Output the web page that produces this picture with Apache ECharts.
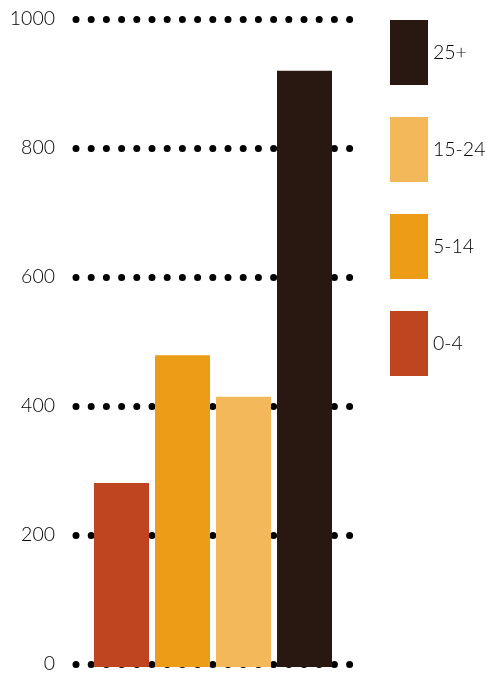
<!DOCTYPE html>
<html>
<head>
<meta charset="utf-8">
<script src="https://cdn.jsdelivr.net/npm/echarts@6/dist/echarts.min.js"></script>
<style>html,body{margin:0;padding:0;background:#fff}#c{width:486px;height:674px}</style>
</head>
<body>
<div id="c"></div>
<script>
const categories = ['0-4', '5-14', '15-24', '25+'];
const values = [284, 481, 417, 920];
const colors = ['#bf4521', '#ec9c16', '#f3b85a', '#291812'];
const legendOrder = ['25+', '15-24', '5-14', '0-4'];
const yMin = 0, yMax = 1000, yStep = 200;

const chart = echarts.init(document.getElementById('c'), null, {renderer: 'canvas'});
const font = {fontFamily: 'Lato', fontWeight: 300, fontSize: 19.5, color: '#000'};

const series = categories.map((c, i) => ({
  name: c,
  type: 'bar',
  stack: 'all',
  xAxisIndex: 1,
  yAxisIndex: 1,
  barWidth: 55,
  itemStyle: {color: colors[i]},
  data: categories.map((_, j) => (j === i ? values[i] : '-'))
}));

chart.setOption({
  animation: false,
  color: colors,
  grid: [
    {left: 76, right: 136, top: 19, bottom: 7},
    {left: 91, width: 244, top: 19, bottom: 7}
  ],
  legend: {
    data: legendOrder,
    orient: 'vertical',
    left: 390,
    top: 20,
    padding: 0,
    itemWidth: 38,
    itemHeight: 65,
    itemGap: 32,
    icon: 'rect',
    textStyle: font
  },
  xAxis: [
    {gridIndex: 0, type: 'category', data: categories, show: false},
    {gridIndex: 1, type: 'category', data: categories, show: false}
  ],
  yAxis: [
    {
      gridIndex: 0, type: 'value', min: yMin, max: yMax, interval: yStep,
      axisLine: {show: false}, axisTick: {show: false},
      axisLabel: Object.assign({margin: 21, formatter: v => String(v)}, font),
      splitLine: {lineStyle: {color: '#000', width: 7, type: [0, 15.2], cap: 'round'}}
    },
    {
      gridIndex: 1, type: 'value', min: yMin, max: yMax, interval: yStep, show: false,
      splitLine: {show: false}
    }
  ],
  series: series
});
</script>
</body>
</html>
